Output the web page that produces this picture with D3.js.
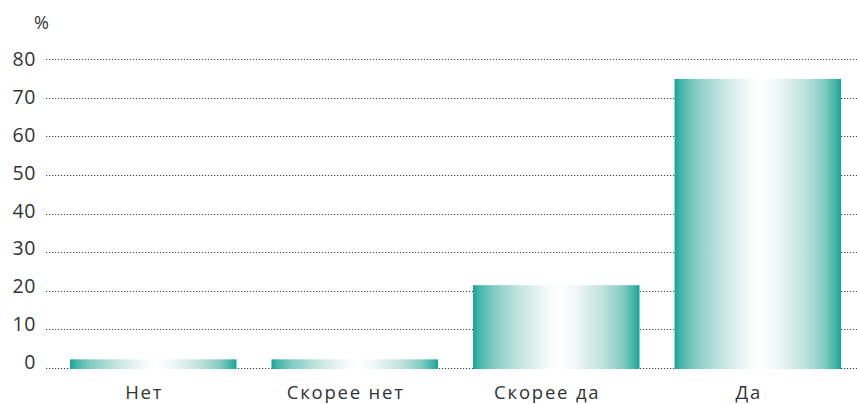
<!DOCTYPE html>
<html><head><meta charset="utf-8">
<script src="https://cdn.jsdelivr.net/npm/d3@7"></script>
<style>
body{margin:0;background:#fff;}
svg text{font-family:"Open Sans","DejaVu Sans",sans-serif;fill:#333;}
</style></head>
<body><svg id="c" width="857" height="404"></svg>
<script>
const categories = ["Нет","Скорее нет","Скорее да","Да"];
const values = [2.5, 2.5, 21.7, 75.1];
const yTicks = [0,10,20,30,40,50,60,70,80];
const unitLabel = "%";

const svg = d3.select("#c");
const x = d3.scaleBand().domain(categories).range([47,864]).paddingInner(0.174).paddingOuter(0.114);
const y = d3.scaleLinear().domain([0,80]).range([369,60]);
const yLab = d3.scaleLinear().domain([0,80]).range([362,59]);

const defs = svg.append("defs");
const g = defs.append("linearGradient").attr("id","bg").attr("x1","0").attr("x2","1").attr("y1","0").attr("y2","0");
[[0,"#12a495"],[0.03,"#3fb3a6"],[0.12,"#80cbc2"],[0.28,"#c4e5e1"],[0.45,"#f6fbfa"],[0.52,"#ffffff"],[0.62,"#eef7f6"],[0.78,"#bfe2de"],[0.9,"#82ccc3"],[0.97,"#3fb3a6"],[1,"#12a495"]]
  .forEach(([o,c])=>g.append("stop").attr("offset",o).attr("stop-color",c));

// gridlines
svg.append("g").selectAll("line").data(yTicks).join("line")
  .attr("x1",46).attr("x2",857)
  .attr("y1",d=>Math.round(y(d))-0.5).attr("y2",d=>Math.round(y(d))-0.5)
  .attr("stroke","#444").attr("stroke-width",1.2).attr("stroke-dasharray","1.2,1.8");

// y labels
svg.append("g").selectAll("text").data(yTicks).join("text")
  .attr("x",36).attr("y",d=>yLab(d)+7).attr("text-anchor","end")
  .style("font-size","19.5px").style("letter-spacing","0.6px").text(d=>d);

svg.append("text").attr("x",34).attr("y",29).style("font-size","18px").text(unitLabel);

// bars
svg.append("g").selectAll("rect").data(values).join("rect")
  .attr("x",(d,i)=>x(categories[i])).attr("width",x.bandwidth())
  .attr("y",d=>y(d)).attr("height",d=>y(0)-y(d))
  .attr("fill","url(#bg)");

// category labels
svg.append("g").selectAll("text").data(categories).join("text")
  .attr("x",d=>x(d)+x.bandwidth()/2-9).attr("y",399).attr("text-anchor","middle")
  .style("font-size","18.5px").style("letter-spacing","1.8px").text(d=>d);
</script></body></html>
